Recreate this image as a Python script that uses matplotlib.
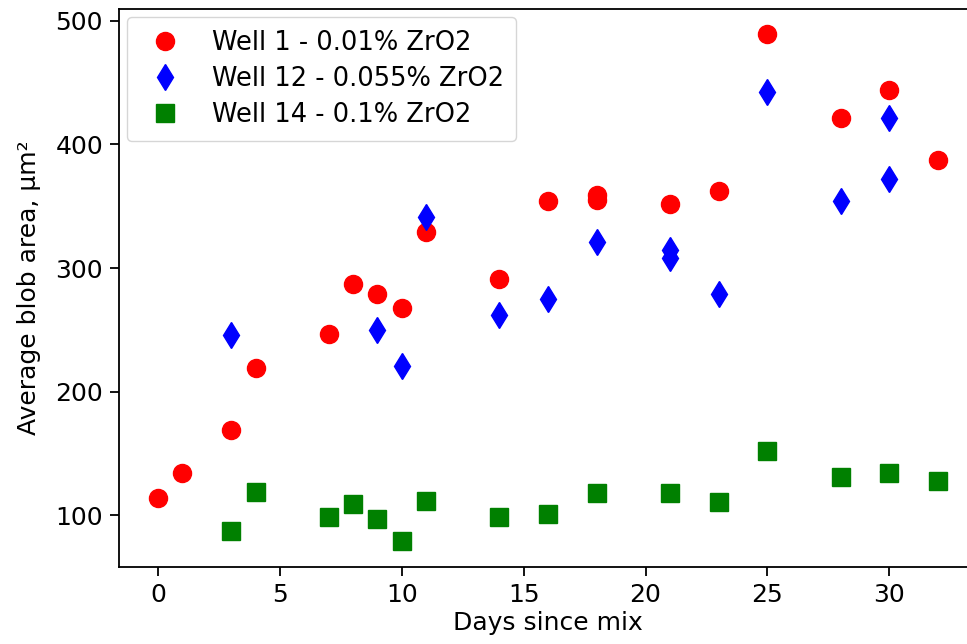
import matplotlib
matplotlib.use("Agg")
import matplotlib.pyplot as plt

days_w1 = [0, 1, 3, 4, 7, 8, 9, 10, 11, 14, 16, 18, 18, 21, 23, 25, 28, 30, 32]
area_w1 = [114, 134, 169, 219, 247, 287, 279, 268, 329, 291, 354, 359, 355, 352, 362, 489, 421, 444, 387]

days_w12 = [3, 9, 10, 11, 14, 16, 18, 21, 21, 23, 25, 28, 30, 30]
area_w12 = [246, 250, 221, 341, 262, 275, 321, 315, 308, 279, 442, 354, 372, 421]

days_w14 = [3, 4, 7, 8, 9, 10, 11, 14, 16, 18, 21, 23, 25, 28, 30, 32]
area_w14 = [87, 119, 99, 109, 97, 79, 112, 99, 101, 118, 118, 111, 152, 131, 134, 128]

labels = ["Well 1 - 0.01% ZrO2", "Well 12 - 0.055% ZrO2", "Well 14 - 0.1% ZrO2"]

plt.rcParams['font.family'] = ['DejaVu Sans']
fs = 18

fig = plt.figure(figsize=(9.67, 6.44), dpi=100)
ax = fig.add_axes([119/967, 1 - 566.7/644, (977 - 119)/967, (566.7 - 9)/644])

ms = 13
ax.plot(days_w1, area_w1, 'o', color='red', ms=ms, label=labels[0])
ax.plot(days_w12, area_w12, 'd', color='blue', ms=ms, label=labels[1])
ax.plot(days_w14, area_w14, 's', color='green', ms=ms, label=labels[2])

ax.set_xticks([0, 5, 10, 15, 20, 25, 30])
ax.set_yticks([100, 200, 300, 400, 500])
ax.tick_params(labelsize=fs, length=6.5, width=1.3, pad=5)
for s in ax.spines.values():
    s.set_linewidth(1.3)

ax.set_xlabel("Days since mix", fontsize=fs, labelpad=3)
ax.set_ylabel("Average blob area, μm²", fontsize=fs, labelpad=10)

leg = ax.legend(loc='upper left', fontsize=18.5, borderaxespad=0.3, handletextpad=0.8,
                borderpad=0.5, labelspacing=0.4)

fig.savefig("out.png", dpi=100)
